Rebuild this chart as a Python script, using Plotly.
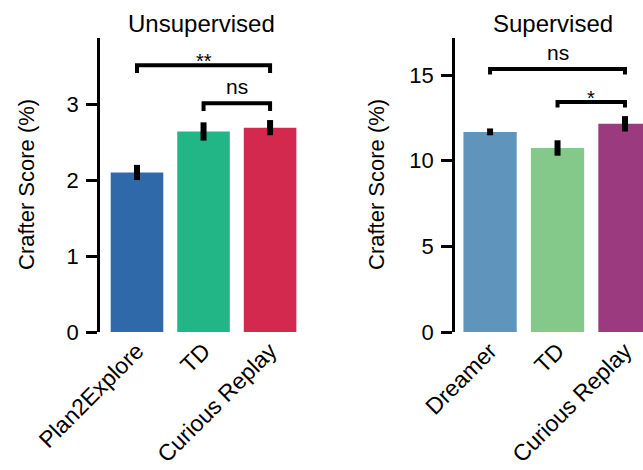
import plotly.graph_objects as go

# Unsupervised agents
unsup_labels = ["Plan2Explore", "TD", "Curious Replay"]
unsup_scores = [2.10, 2.64, 2.69]
unsup_err = [0.10, 0.12, 0.10]
unsup_colors = ["#2f69a9", "#22b585", "#d3294e"]
# significance brackets: (left bar, right bar, height, tip drop, label)
unsup_brackets = [(0, 2, 3.51, 0.10, "**"), (1, 2, 3.01, 0.10, "ns")]

# Supervised agents
sup_labels = ["Dreamer", "TD", "Curious Replay"]
sup_scores = [11.68, 10.74, 12.15]
sup_err = [0.20, 0.45, 0.45]
sup_colors = ["#5f95bd", "#85c98a", "#9b3a7e"]
sup_brackets = [(0, 2, 15.35, 0.32, "ns"), (1, 2, 13.43, 0.32, "*")]

W, H = 643, 470
FONT = "Liberation Sans, Arial, sans-serif"

fig = go.Figure()


def add_panel(labels, scores, err, colors, brackets, xa, ya):
    xs = list(range(len(labels)))
    fig.add_trace(go.Bar(
        x=xs, y=scores, marker=dict(color=colors, line=dict(width=0)),
        error_y=dict(type="data", array=err, color="black", thickness=6, width=0),
        xaxis=xa, yaxis=ya, showlegend=False,
    ))
    for i, j, h, tip, txt in brackets:
        fig.add_trace(go.Scatter(
            x=[xs[i], xs[i], xs[j], xs[j]], y=[h - tip, h, h, h - tip],
            mode="lines", line=dict(color="black", width=4),
            xaxis=xa, yaxis=ya, showlegend=False, hoverinfo="skip",
        ))
        star = "*" in txt
        fig.add_annotation(
            x=(xs[i] + xs[j]) / 2, y=h, xref=xa, yref=ya,
            text=txt, showarrow=False, yanchor="bottom",
            yshift=-9 if star else 3,
            font=dict(size=20 if star else 21, color="black", family=FONT),
        )


add_panel(unsup_labels, unsup_scores, unsup_err, unsup_colors, unsup_brackets, "x", "y")
add_panel(sup_labels, sup_scores, sup_err, sup_colors, sup_brackets, "x2", "y2")

ydom = [1 - 332 / H, 1 - 38 / H]
yaxis_common = dict(
    showline=True, linecolor="black", linewidth=2.5, ticks="outside",
    ticklen=11, tickwidth=2.5, tickcolor="black", showgrid=False, zeroline=False,
    tickfont=dict(size=22, color="black", family=FONT), ticklabelstandoff=3,
    domain=ydom, automargin=False,
)
xaxis_common = dict(
    showline=False, ticks="", showgrid=False, zeroline=False, tickangle=-45,
    tickfont=dict(size=23, color="black", family=FONT), tickmode="array",
    automargin=False,
)

fig.update_layout(
    width=W, height=H, margin=dict(l=0, r=0, t=0, b=0, autoexpand=False),
    paper_bgcolor="white", plot_bgcolor="white", bargap=0.21,
    xaxis=dict(xaxis_common, domain=[100 / W, 310 / W], range=[-0.556, 2.6],
               tickvals=[0, 1, 2], ticktext=unsup_labels, anchor="y"),
    yaxis=dict(yaxis_common, range=[0, 3.87], tickvals=[0, 1, 2, 3], anchor="x"),
    xaxis2=dict(xaxis_common, domain=[455 / W, 1.0], range=[-0.52, 2.267],
                tickvals=[0, 1, 2], ticktext=sup_labels, anchor="y2"),
    yaxis2=dict(yaxis_common, range=[0, 17.16], tickvals=[0, 5, 10, 15], anchor="x2"),
)

# panel titles
for cx, txt in [(201, "Unsupervised"), (553, "Supervised")]:
    fig.add_annotation(x=cx / W, y=1 - 23 / H, xref="paper", yref="paper",
                       text=txt, showarrow=False, xanchor="center", yanchor="middle",
                       font=dict(size=24, color="black", family=FONT))

# y-axis titles
for cx in [27, 377]:
    fig.add_annotation(x=cx / W, y=1 - 185 / H, xref="paper", yref="paper",
                       text="Crafter Score (%)", textangle=-90, showarrow=False,
                       xanchor="center", yanchor="middle",
                       font=dict(size=22, color="black", family=FONT))

fig.write_html("out.html")
